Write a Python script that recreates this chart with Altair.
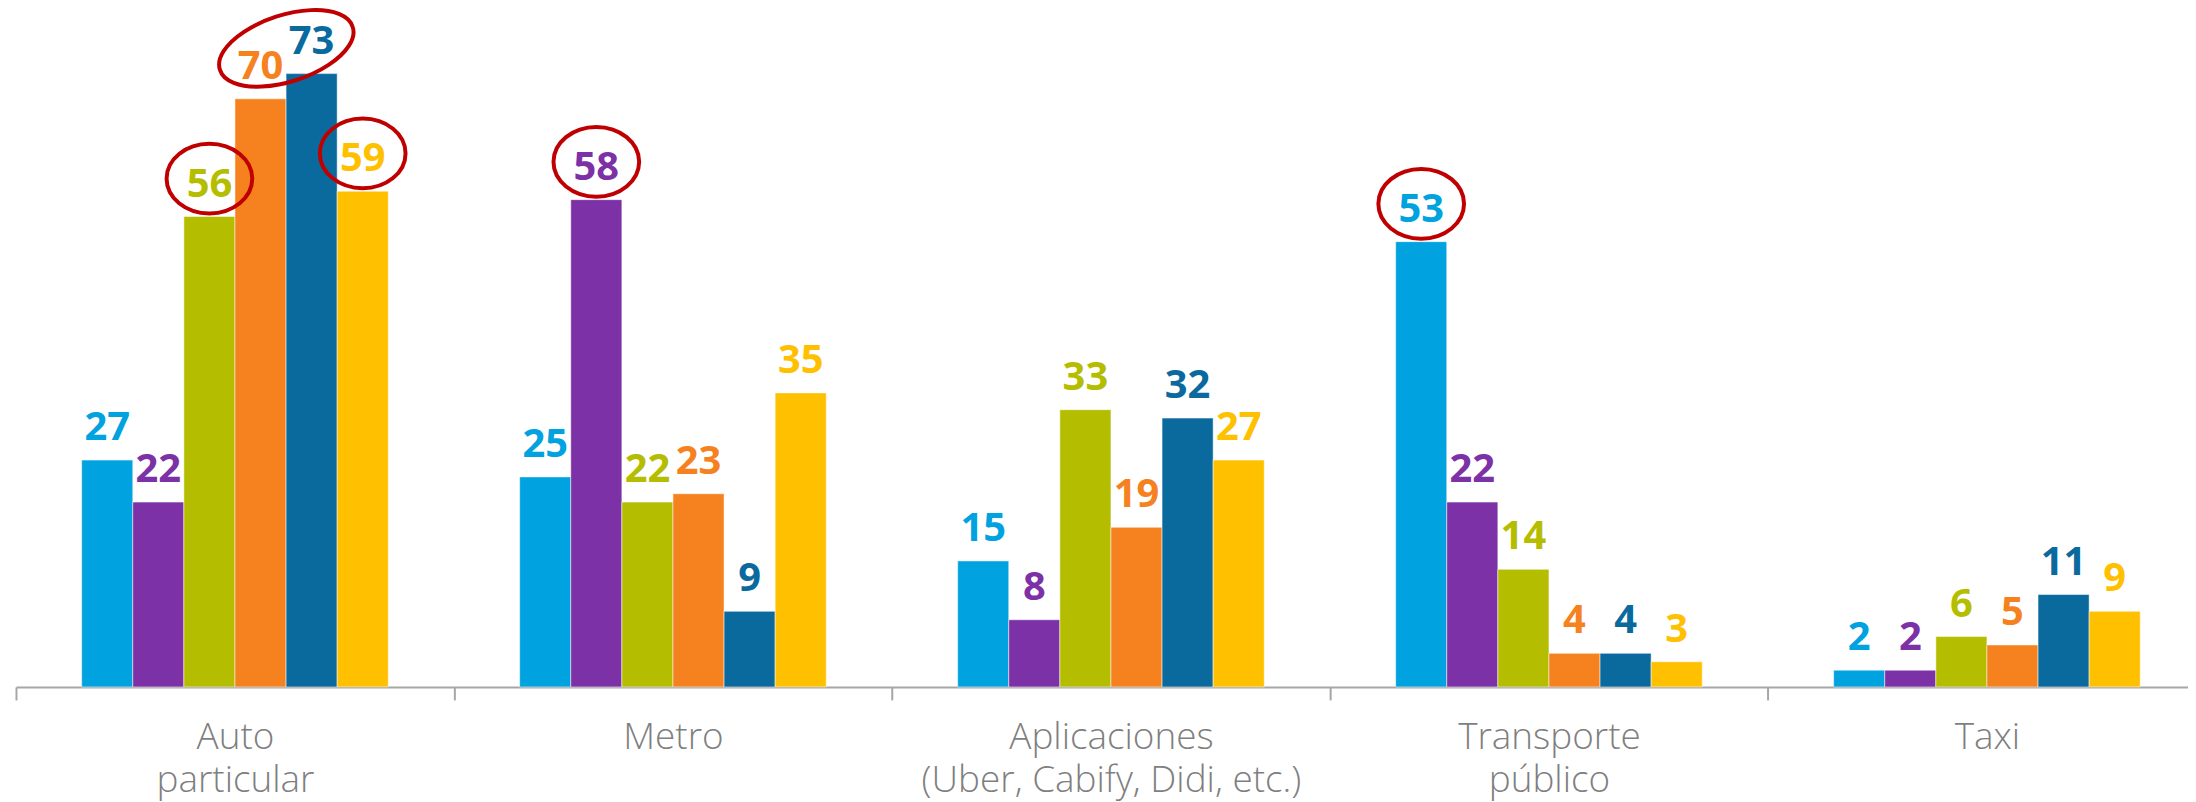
import altair as alt
import pandas as pd

categories = ["Auto particular", "Metro", "Aplicaciones (Uber, Cabify, Didi, etc.)",
              "Transporte público", "Taxi"]
category_lines = [["Auto", "particular"], ["Metro"], ["Aplicaciones", "(Uber, Cabify, Didi, etc.)"],
                  ["Transporte", "público"], ["Taxi"]]
series = ["Serie 1", "Serie 2", "Serie 3", "Serie 4", "Serie 5", "Serie 6"]
colors = ["#00A3E0", "#7D31A6", "#B5BD00", "#F5821F", "#0A6A9E", "#FFC000"]
values_s1 = [27, 25, 15, 53, 2]
values_s2 = [22, 58, 8, 22, 2]
values_s3 = [56, 22, 33, 14, 6]
values_s4 = [70, 23, 19, 4, 5]
values_s5 = [73, 9, 32, 4, 11]
values_s6 = [59, 35, 27, 3, 9]
all_values = [values_s1, values_s2, values_s3, values_s4, values_s5, values_s6]

circled = [("Auto particular", "Serie 3"), ("Auto particular", "Serie 6"),
           ("Metro", "Serie 2"), ("Transporte público", "Serie 1")]
circled_pair = ("Auto particular", "Serie 4", "Serie 5")

rows = []
for s, vals in zip(series, all_values):
    for c, v in zip(categories, vals):
        rows.append({"cat": c, "serie": s, "value": v})
df = pd.DataFrame(rows)


def val(c, s):
    return df[(df.cat == c) & (df.serie == s)].value.iloc[0]


circ_df = pd.DataFrame([{"cat": c, "serie": s, "value": val(c, s)} for c, s in circled])
pair_df = pd.DataFrame([{"cat": circled_pair[0], "serie": circled_pair[1],
                         "value": (val(circled_pair[0], circled_pair[1]) + val(circled_pair[0], circled_pair[2])) / 2}])

expr = "datum.label"
for c, lines in reversed(list(zip(categories, category_lines))):
    arr = "[" + ",".join("'" + l + "'" for l in lines) + "]"
    expr = f"datum.label == '{c}' ? {arr} : ({expr})"

# offset domain: two empty slots frame the six series inside each group
offset_domain = ["_l"] + series + ["_r"]

x_enc = alt.X("cat:N", sort=categories,
              scale=alt.Scale(paddingInner=0, paddingOuter=0, range=[0, 2198]),
              axis=alt.Axis(title=None, labelExpr=expr, labelFontSize=37, labelColor="#7F7F7F",
                            labelFont="Open Sans", labelFontWeight=300, labelLineHeight=43,
                            labelPadding=20, tickSize=13, tickColor="#A6A6A6", tickWidth=2,
                            domainColor="#A6A6A6", domainWidth=2, tickBand="extent",
                            labelAngle=0, labelBaseline="top", labelLimit=0, labelOverlap=False))
xo_enc = alt.XOffset("serie:N", scale=alt.Scale(domain=offset_domain, paddingInner=0, paddingOuter=0.286))
y_enc = alt.Y("value:Q", scale=alt.Scale(domain=[0, 80.4], nice=False, zero=True), axis=None)
color_enc = alt.Color("serie:N", scale=alt.Scale(domain=series, range=colors), legend=None)

base = alt.Chart(df).encode(x=x_enc, xOffset=xo_enc, y=y_enc, color=color_enc)
bars = base.mark_bar(stroke="white", strokeWidth=1, strokeOpacity=0.5)
labels = base.mark_text(dy=-20, baseline="alphabetic", fontSize=40, fontWeight="bold",
                        font="Open Sans").encode(text="value:Q")

ell_path = "M -1 0 A 1 0.814 0 1 1 1 0 A 1 0.814 0 1 1 -1 0 Z"
circles = alt.Chart(circ_df).mark_point(shape=ell_path, size=7396, filled=False, color="#C00000",
                                        strokeWidth=4, opacity=1, yOffset=-38).encode(
    x=alt.X("cat:N", sort=categories), xOffset=alt.XOffset("serie:N"), y="value:Q")

# rotated ellipse (-18 deg) shifted right of the orange bar, spanning two labels
tilt_path = ("M -0.581 0.309 A 1 0.472 -18 1 1 1.321 -0.309 "
             "A 1 0.472 -18 1 1 -0.581 0.309 Z")
tilted = alt.Chart(pair_df).mark_point(shape=tilt_path, size=19600, filled=False, color="#C00000",
                                       strokeWidth=4, opacity=1, yOffset=-38).encode(
    x=alt.X("cat:N", sort=categories), xOffset=alt.XOffset("serie:N"), y="value:Q")

chart = alt.layer(bars, labels, circles, tilted).properties(
    width=2180, height=678,
    padding={"left": 8, "top": 2, "right": 0, "bottom": 114},
    autosize=alt.AutoSizeParams(type="none"),
).configure_view(stroke=None)

chart.save("out.html", embed_options={"renderer": "svg", "actions": False})
